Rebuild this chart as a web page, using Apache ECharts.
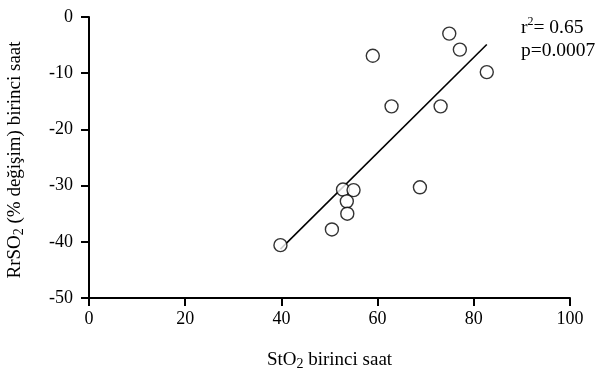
<!DOCTYPE html>
<html><head><meta charset="utf-8">
<script src="https://cdn.jsdelivr.net/npm/echarts@6/dist/echarts.min.js"></script>
<style>html,body{margin:0;padding:0;background:#fff}#c{width:615px;height:370px}</style>
</head><body><div id="c"></div>
<script>
const stO2 = [74.9, 77.1, 59.0, 82.7, 62.9, 73.1, 52.8, 55.0, 68.8, 53.6, 53.7, 50.5, 39.8];
const rrSO2 = [-2.95, -5.8, -6.9, -9.8, -15.9, -15.9, -30.7, -30.8, -30.3, -32.8, -35.0, -37.8, -40.6];
const fitX = [39.8, 82.7];
const fitY = [-41.3, -4.9];
const xTicks = [0, 20, 40, 60, 80, 100];
const yTicks = [-50, -40, -30, -20, -10, 0];
const annot = ['0.65', '0.0007'];

const F = 'Liberation Serif, Times New Roman, serif';
const chart = echarts.init(document.getElementById('c'), null, {renderer: 'canvas'});
chart.setOption({
  animation: false,
  backgroundColor: '#fff',
  grid: {left: 89, right: 45, top: 17, bottom: 72, containLabel: false, outerBoundsMode: 'none'},
  xAxis: {
    type: 'value', min: xTicks[0], max: xTicks[xTicks.length - 1], interval: 20,
    splitLine: {show: false},
    axisLine: {onZero: false, lineStyle: {color: '#000', width: 2}},
    axisTick: {length: 8, lineStyle: {color: '#000', width: 2}},
    axisLabel: {color: '#000', fontFamily: F, fontSize: 18, margin: 12},
    name: '{a|StO}{s|2}{a| birinci saat}',
    nameLocation: 'middle', nameGap: 51,
    nameTextStyle: {
      rich: {
        a: {fontFamily: F, fontSize: 19, color: '#000', lineHeight: 22},
        s: {fontFamily: F, fontSize: 14, color: '#000', lineHeight: 13, verticalAlign: 'bottom'}
      }
    }
  },
  yAxis: {
    type: 'value', min: yTicks[0], max: yTicks[yTicks.length - 1], interval: 10,
    splitLine: {show: false},
    axisLine: {onZero: false, lineStyle: {color: '#000', width: 2}},
    axisTick: {length: 8, lineStyle: {color: '#000', width: 2}},
    axisLabel: {color: '#000', fontFamily: F, fontSize: 18, margin: 16}
  },
  graphic: [{
    type: 'text', x: 15, y: 160, rotation: Math.PI / 2,
    style: {
      text: '{a|RrSO}{s|2}{a| (% değişim) birinci saat}',
      align: 'center', verticalAlign: 'middle',
      rich: {
        a: {fontFamily: F, fontSize: 19, fill: '#000', lineHeight: 22},
        s: {fontFamily: F, fontSize: 14, fill: '#000', lineHeight: 13, verticalAlign: 'bottom'}
      }
    }
  }, {
    type: 'text', x: 521, y: 16,
    style: {
      text: '{a|r}{p|2}{a|= ' + annot[0] + '}\n{a|p=' + annot[1] + '}',
      align: 'left', verticalAlign: 'top',
      rich: {
        a: {fontFamily: F, fontSize: 19.5, fill: '#000', lineHeight: 23},
        p: {fontFamily: F, fontSize: 12, fill: '#000', lineHeight: 17, verticalAlign: 'top'}
      }
    }
  }],
  series: [{
    type: 'line',
    data: fitX.map((x, i) => [x, fitY[i]]),
    symbol: 'none',
    lineStyle: {color: '#000', width: 1.6},
    z: 2
  }, {
    type: 'scatter',
    data: stO2.map((x, i) => [x, rrSO2[i]]),
    symbol: 'circle', symbolSize: 13,
    itemStyle: {color: '#fff', borderColor: '#000', borderWidth: 1.4},
    z: 3
  }]
});
</script></body></html>
